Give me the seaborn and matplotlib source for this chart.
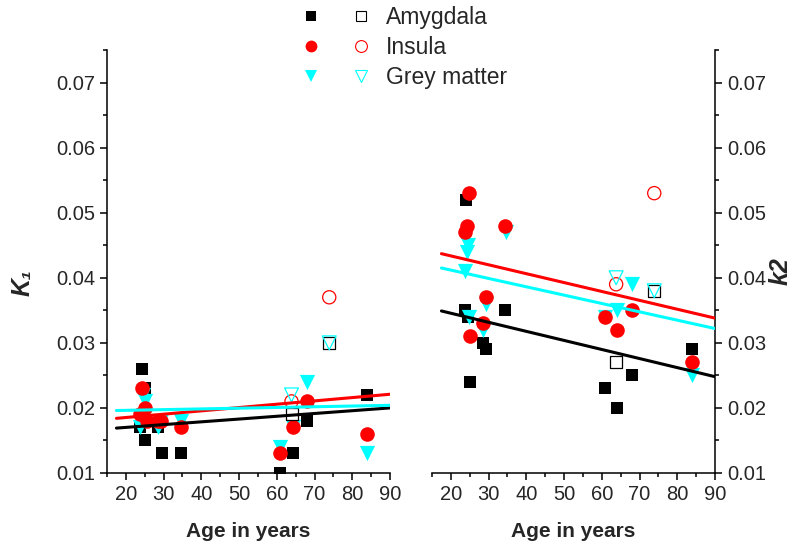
import matplotlib
matplotlib.use('Agg')
import matplotlib.pyplot as plt
import seaborn as sns
from matplotlib.lines import Line2D
from matplotlib.legend_handler import HandlerTuple
from matplotlib.ticker import MultipleLocator, FormatStrFormatter

# ---------------- data ----------------
# Left panel (K1)
k1_amy_age = [24.2, 25.1, 23.7, 25.1, 28.6, 29.5, 34.5, 60.8, 64.2, 67.9, 83.8]
k1_amy = [0.026, 0.023, 0.017, 0.015, 0.017, 0.013, 0.013, 0.010, 0.013, 0.018, 0.022]
k1_ins_age = [24.2, 25.1, 23.7, 25.5, 28.6, 29.3, 34.5, 60.8, 64.2, 67.9, 83.8]
k1_ins = [0.023, 0.020, 0.019, 0.018, 0.018, 0.018, 0.017, 0.013, 0.017, 0.021, 0.016]
k1_gm_age = [24.6, 25.1, 23.7, 25.1, 28.6, 29.3, 34.5, 60.8, 64.2, 67.9, 83.8]
k1_gm = [0.022, 0.021, 0.017, 0.018, 0.017, 0.018, 0.018, 0.014, 0.017, 0.024, 0.013]
k1_amy_open_age = [63.9, 73.9]
k1_amy_open = [0.019, 0.030]
k1_ins_open_age = [63.9, 73.9]
k1_ins_open = [0.021, 0.037]
k1_gm_open_age = [63.9, 73.9]
k1_gm_open = [0.022, 0.030]

# Right panel (k2)
k2_amy_age = [23.7, 24.0, 24.6, 25.1, 28.6, 29.3, 34.4, 60.8, 64.1, 67.9, 84.0]
k2_amy = [0.035, 0.052, 0.034, 0.024, 0.030, 0.029, 0.035, 0.023, 0.020, 0.025, 0.029]
k2_ins_age = [23.7, 24.2, 24.9, 25.1, 28.6, 29.3, 34.4, 60.8, 64.1, 67.9, 84.0]
k2_ins = [0.047, 0.048, 0.053, 0.031, 0.033, 0.037, 0.048, 0.034, 0.032, 0.035, 0.027]
k2_gm_age = [23.7, 24.2, 24.6, 24.9, 28.6, 29.3, 34.5, 60.8, 64.1, 67.9, 84.0]
k2_gm = [0.041, 0.044, 0.045, 0.034, 0.032, 0.036, 0.047, 0.034, 0.035, 0.039, 0.025]
k2_amy_open_age = [63.8, 73.9]
k2_amy_open = [0.027, 0.038]
k2_ins_open_age = [63.8, 73.9]
k2_ins_open = [0.039, 0.053]
k2_gm_open_age = [63.8, 73.9]
k2_gm_open = [0.040, 0.038]

# regression lines (end points)
fit_age = [17.5, 90]
k1_fit_amy = [0.0169, 0.0200]
k1_fit_ins = [0.0184, 0.0221]
k1_fit_gm = [0.0196, 0.0204]
k2_fit_amy = [0.0349, 0.0248]
k2_fit_ins = [0.0437, 0.0338]
k2_fit_gm = [0.0415, 0.0322]

legend_labels = ['Amygdala', 'Insula', 'Grey matter']

# ---------------- style ----------------
sns.set_style('ticks')
plt.rcParams['font.family'] = ['Liberation Sans', 'DejaVu Sans']

BLACK = '#000000'
RED = '#FF0000'
CYAN = '#00FFFF'

fig = plt.figure(figsize=(8, 5.48), dpi=100)
ax1 = fig.add_axes([107 / 800, 75 / 548, 283 / 800, 423 / 548])
ax2 = fig.add_axes([432 / 800, 75 / 548, 283 / 800, 423 / 548])


def draw(ax, amy, ins, gm, amy_o, ins_o, gm_o, fits):
    sns.scatterplot(x=amy[0], y=amy[1], marker='s', s=80, color=BLACK,
                    edgecolor=BLACK, linewidth=0, ax=ax, zorder=3)
    sns.scatterplot(x=gm[0], y=gm[1], marker='v', s=120, color=CYAN,
                    edgecolor=CYAN, linewidth=0, ax=ax, zorder=3)
    sns.scatterplot(x=ins[0], y=ins[1], marker='o', s=110, color=RED,
                    edgecolor=RED, linewidth=0, ax=ax, zorder=3)
    sns.scatterplot(x=amy_o[0], y=amy_o[1], marker='s', s=65, facecolor='white',
                    edgecolor=BLACK, linewidth=0.9, ax=ax, zorder=4)
    sns.scatterplot(x=ins_o[0], y=ins_o[1], marker='o', s=90, facecolor='none',
                    edgecolor=RED, linewidth=0.9, ax=ax, zorder=4)
    sns.scatterplot(x=gm_o[0], y=gm_o[1], marker='v', s=100, facecolor='none',
                    edgecolor=CYAN, linewidth=0.9, ax=ax, zorder=4)
    for yv, c in zip(fits, [BLACK, RED, CYAN]):
        sns.lineplot(x=fit_age, y=yv, color=c, linewidth=2.2, ax=ax, zorder=5)
    ax.set_xlim(15, 90)
    ax.set_ylim(0.01, 0.075)
    ax.xaxis.set_major_locator(MultipleLocator(10))
    ax.xaxis.set_minor_locator(MultipleLocator(5))
    ax.yaxis.set_major_locator(MultipleLocator(0.01))
    ax.yaxis.set_minor_locator(MultipleLocator(0.005))
    ax.yaxis.set_major_formatter(FormatStrFormatter('%.2f'))
    ax.tick_params(which='major', direction='out', length=5, width=1.1,
                   labelsize=14.5, color='black', pad=3.5)
    ax.tick_params(which='minor', direction='out', length=3, width=1.1,
                   color='black')
    for sp in ax.spines.values():
        sp.set_linewidth(1.1)
        sp.set_color('black')
    ax.set_xlabel('Age in years', fontsize=15, fontweight='bold', labelpad=13)


draw(ax1, (k1_amy_age, k1_amy), (k1_ins_age, k1_ins), (k1_gm_age, k1_gm),
     (k1_amy_open_age, k1_amy_open), (k1_ins_open_age, k1_ins_open),
     (k1_gm_open_age, k1_gm_open), [k1_fit_amy, k1_fit_ins, k1_fit_gm])
draw(ax2, (k2_amy_age, k2_amy), (k2_ins_age, k2_ins), (k2_gm_age, k2_gm),
     (k2_amy_open_age, k2_amy_open), (k2_ins_open_age, k2_ins_open),
     (k2_gm_open_age, k2_gm_open), [k2_fit_amy, k2_fit_ins, k2_fit_gm])

ax1.spines['top'].set_visible(False)
ax1.spines['right'].set_visible(False)
ax2.spines['top'].set_visible(False)
ax2.spines['left'].set_visible(False)
ax2.yaxis.tick_right()
ax2.yaxis.set_label_position('right')

ax1.set_ylabel('K\u2081', fontsize=18, fontweight='bold', style='italic')
ax1.yaxis.set_label_coords(-0.255, 0.45)
ax2.set_ylabel('k2', fontsize=18, fontweight='bold', style='italic', rotation=90)
ax2.yaxis.set_label_coords(1.19, 0.478)

# legend
def mk(m, fc, ec, ms, mew=0):
    return Line2D([], [], linestyle='none', marker=m, markerfacecolor=fc,
                  markeredgecolor=ec, markersize=ms, markeredgewidth=mew)

handles = [
    (mk('s', BLACK, BLACK, 7), mk('s', 'none', BLACK, 7, 0.8)),
    (mk('o', RED, RED, 8.5), mk('o', 'none', RED, 8.5, 0.8)),
    (mk('v', CYAN, CYAN, 9), mk('v', 'none', CYAN, 9, 0.8)),
]
fig.legend(handles, legend_labels, loc='upper center', bbox_to_anchor=(0.5075, 1.005),
           frameon=False, fontsize=16.5, handler_map={tuple: HandlerTuple(ndivide=None, pad=1.66)},
           handlelength=2.7, handletextpad=0.8, labelspacing=0.3, borderaxespad=0)

fig.savefig('out.png', dpi=100)
